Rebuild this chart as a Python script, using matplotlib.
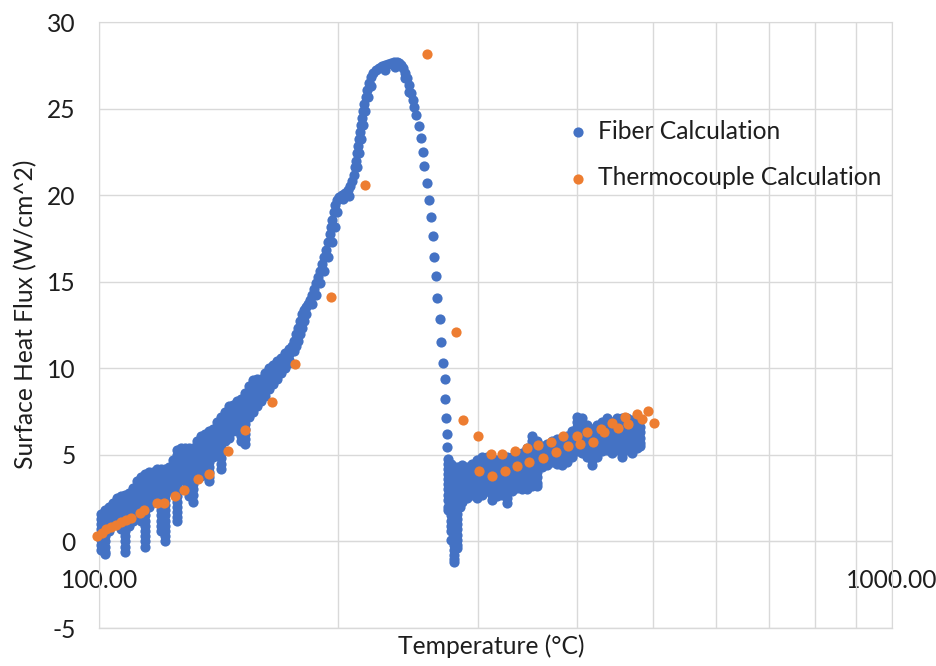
import matplotlib
matplotlib.use("Agg")
import matplotlib.pyplot as plt
from matplotlib.ticker import FixedLocator, NullFormatter, FormatStrFormatter

# fiber calculation, early rise: each column is (temperature, flux values read top to bottom)
fiber_rise = [
    (100.5, [1.6, 1.3, 1.0, 0.7, 0.4, 0.1, -0.2, -0.5]),
    (101.7, [1.8, 1.5, 1.2, 0.9, 0.6, 0.3, 0.0, -0.3, -0.6, -0.7]),
    (102.9, [2.0, 1.7, 1.4, 1.1, 0.8, 0.6]),
    (104.0, [2.2, 1.9, 1.6, 1.3, 1.0]),
    (105.3, [2.5, 2.2, 1.9, 1.6, 1.2]),
    (106.5, [2.6, 2.3, 2.0, 1.7, 1.4, 1.1, 0.7]),
    (107.7, [2.7, 2.4, 2.1, 1.8, 1.5, 1.2, 0.9, 0.6, 0.3, 0.0, -0.3, -0.6]),
    (109.0, [2.8, 2.5, 2.2, 1.9, 1.6, 1.3, 0.9]),
    (110.3, [3.1, 2.8, 2.5, 2.2, 1.9, 1.5, 1.2]),
    (111.6, [3.5, 3.2, 2.9, 2.6, 2.3, 1.9, 1.6]),
    (112.9, [3.7, 3.4, 3.1, 2.8, 2.5, 2.2, 1.9, 1.5, 1.2]),
    (114.2, [3.9, 3.6, 3.3, 3.0, 2.7, 2.4, 2.1, 1.8, 1.5, 1.2, 0.9, 0.6, 0.3, 0.0, -0.3]),
    (115.5, [4.0, 3.7, 3.4, 3.1, 2.8, 2.5, 2.2, 2.0]),
    (116.9, [4.0, 3.7, 3.4, 3.1, 2.8, 2.5, 2.3]),
    (118.3, [4.2, 3.9, 3.6, 3.3, 3.0, 2.7, 2.3]),
    (119.7, [4.2, 3.9, 3.6, 3.3, 3.0, 2.7, 2.4, 2.1, 1.8, 1.5, 1.2, 0.9, 0.6]),
    (121.1, [4.2, 3.9, 3.6, 3.3, 3.0, 2.7, 2.4, 2.1, 1.8, 1.5, 1.2, 0.9, 0.6, 0.3, 0.0]),
    (122.5, [4.3, 4.0, 3.7, 3.4, 3.1, 2.9]),
    (123.9, [4.7, 4.4, 4.1, 3.8, 3.5]),
    (125.4, [5.3, 5.0, 4.7, 4.4, 4.1, 3.8, 3.5, 3.2, 2.9, 2.6, 2.3, 2.0, 1.7, 1.4, 1.2]),
    (126.8, [5.4, 5.1, 4.8, 4.5, 4.2, 4.0]),
    (128.3, [5.4, 5.1, 4.8, 4.5, 4.2, 3.9, 3.5]),
    (129.8, [5.4, 5.1, 4.8, 4.5, 4.2, 3.9, 3.6, 3.3, 3.0, 2.6]),
    (131.3, [5.4, 5.1, 4.8, 4.5, 4.2, 3.9, 3.6, 3.3, 3.0, 2.7, 2.3]),
    (132.9, [5.8, 5.5, 5.2, 4.9, 4.5]),
    (134.4, [6.1, 5.8, 5.5, 5.2, 4.9, 4.6, 4.3, 4.0, 3.8]),
    (136.0, [6.2, 5.9, 5.6, 5.3, 5.0, 4.7, 4.3]),
    (137.6, [6.4, 6.1, 5.8, 5.5, 5.2, 4.9, 4.6, 4.3, 4.0, 3.7, 3.5]),
    (139.2, [6.5, 6.2, 5.9, 5.6, 5.2, 4.9]),
    (140.8, [6.9, 6.6, 6.3, 6.0, 5.7, 5.4, 5.2]),
    (142.4, [7.2, 6.9, 6.6, 6.3, 6.0, 5.7, 5.4, 5.1, 4.8, 4.5, 4.2]),
    (144.1, [7.5, 7.2, 6.9, 6.6, 6.3, 6.0, 5.8]),
    (145.8, [7.8, 7.5, 7.2, 6.9, 6.6, 6.3, 6.0]),
    (147.5, [7.9, 7.6, 7.3, 7.0, 6.7, 6.4]),
    (149.2, [8.1, 7.8, 7.5, 7.2, 6.9, 6.6, 6.4]),
    (151.0, [8.2, 7.9, 7.6, 7.3, 7.0, 6.7, 6.4, 6.1, 5.8]),
    (152.7, [8.6, 8.3, 8.0, 7.7, 7.4, 7.1, 6.8, 6.5, 6.2, 5.9, 5.6]),
    (154.5, [9.0, 8.7, 8.4, 8.1, 7.8, 7.5, 7.2]),
    (156.4, [9.3, 9.0, 8.7, 8.4, 8.1, 7.8, 7.5]),
    (158.2, [9.4, 9.1, 8.8, 8.5, 8.2, 7.8]),
    (160.0, [9.4, 9.1, 8.8, 8.5, 8.1]),
    (161.9, [9.7, 9.4, 9.1, 8.8, 8.4]),
    (163.8, [10.0, 9.7, 9.4, 9.1, 8.8]),
    (165.7, [10.2, 9.9, 9.6, 9.3, 9.1]),
    (167.6, [10.4, 10.1, 9.8, 9.4]),
    (169.6, [10.6, 10.3, 10.0, 9.7]),
    (171.6, [10.9, 10.6, 10.3, 10.0]),
    (173.6, [11.1, 10.8, 10.5, 10.3]),
]

# fiber calculation, smooth climb to the peak and the fall after it
fiber_peak_temp = [
    174.1, 175.1, 176.1, 177.2, 178.2, 179.2, 180.2, 181.3, 182.4, 183.4,
    184.5, 185.6, 186.6, 187.7, 188.8, 189.9, 191.0, 192.1, 193.3, 194.4,
    195.5, 196.1, 196.7, 197.8, 198.4, 199.5, 200.7, 202.5, 204.2, 206.0,
    207.2, 208.4, 209.6, 210.2, 210.8, 211.5, 212.1, 212.7, 213.3, 213.9,
    214.6, 215.2, 215.8, 217.1, 217.7, 219.0, 220.2, 221.5, 223.5, 225.4,
    227.4, 229.4, 231.4, 233.4, 235.5, 237.5, 238.9, 240.2, 241.6, 243.0,
    244.4, 245.8, 247.3, 248.7, 249.8, 250.9, 253.1, 254.3, 255.8, 256.8,
    259.3, 260.6, 261.8, 263.4, 264.6, 265.9, 266.9, 269.0, 270.0, 271.6,
    272.7, 273.3, 273.7, 274.8, 274.8, 275.6,
]
fiber_peak_flux = [
    11.00, 11.29, 11.58, 11.99, 12.33, 12.74, 13.14, 13.37, 13.55, 13.72,
    13.95, 14.24, 14.59, 14.94, 15.29, 15.63, 16.04, 16.44, 16.85, 17.31,
    17.78, 18.18, 18.59, 19.05, 19.45, 19.74, 19.92, 20.03, 20.15, 20.27,
    20.50, 20.79, 21.19, 21.60, 22.00, 22.41, 22.81, 23.22, 23.62, 24.03,
    24.43, 24.84, 25.24, 25.65, 26.06, 26.46, 26.81, 27.04, 27.21, 27.33,
    27.44, 27.50, 27.56, 27.62, 27.68, 27.68, 27.62, 27.50, 27.33, 27.04,
    26.75, 26.34, 25.88, 25.48, 25.07, 24.61, 23.97, 23.28, 22.47, 21.66,
    20.73, 19.74, 18.76, 17.66, 16.44, 15.34, 14.07, 12.85, 11.52, 10.31,
    9.38, 8.22, 7.12, 6.20, 5.44, 4.75,
]
# second row of points that gives the climb its thickness
fiber_edge_temp = [
    176.1, 177.2, 178.2, 179.2, 180.2, 181.3, 182.4, 185.6, 187.7, 189.9,
    192.1, 194.4, 196.7, 198.4, 199.5, 203.0, 206.6, 211.5, 212.7, 213.9,
    215.2, 216.4, 218.4, 220.2, 229.4, 236.1, 243.0, 245.8,
]
fiber_edge_flux = [
    11.00, 11.29, 11.58, 11.99, 12.33, 12.74, 13.14, 13.72, 14.24, 14.94,
    15.63, 16.44, 17.31, 18.18, 19.05, 19.80, 19.97, 21.60, 22.41, 23.22,
    24.03, 24.84, 25.65, 26.29, 27.21, 27.39, 26.75, 25.94,
]

# fiber calculation, dip below zero
fiber_dip = [
    (275.4, [4.5, 4.2, 3.9, 3.6, 3.3, 3.0, 2.7, 2.4, 2.0, 1.8]),
    (277.8, [4.5, 4.2, 3.9, 3.6, 3.3, 3.0, 2.7, 2.4, 2.1, 1.8, 1.5, 1.2, 0.9, 0.6, 0.1]),
    (280.2, [4.3, 4.0, 3.7, 3.4, 3.1, 2.8, 2.5, 2.2, 1.9, 1.6, 1.3, 1.0, 0.7, 0.4, 0.1,
             -0.2, -0.5, -0.8, -1.0, -1.2]),
    (282.7, [4.3, 4.0, 3.7, 3.4, 3.1, 2.8, 2.5, 2.2, 1.9, 1.6, 1.3, 1.0, 0.7, 0.4, 0.1,
             -0.2, -0.4]),
    (285.2, [4.3, 4.0, 3.7, 3.4, 3.1, 2.8, 2.5, 2.2, 2.0]),
]

# fiber calculation, slow recovery band
fiber_tail = [
    (286.8, [4.4, 4.1, 3.8, 3.5, 3.2, 2.9, 2.6, 2.3]),
    (291.0, [4.3, 4.0, 3.7, 3.4, 3.1, 2.8, 2.5]),
    (295.2, [4.5, 4.2, 3.9, 3.6, 3.3, 3.0, 2.7]),
    (299.5, [4.7, 4.4, 4.1, 3.8, 3.5, 3.2, 2.9, 2.5]),
    (303.9, [4.9, 4.6, 4.3, 4.0, 3.7, 3.4, 3.0, 2.7]),
    (308.3, [4.9, 4.6, 4.3, 4.0, 3.7, 3.4, 3.1, 2.9]),
    (312.8, [4.8, 4.5, 4.2, 3.9, 3.6, 3.3, 3.0, 2.7, 2.4]),
    (317.3, [4.7, 4.4, 4.1, 3.8, 3.5, 3.2, 2.9, 2.6]),
    (322.1, [4.9, 4.6, 4.3, 4.0, 3.7, 3.4, 3.0, 2.7]),
    (326.8, [4.9, 4.6, 4.3, 4.0, 3.7, 3.4, 3.1, 2.8, 2.5, 2.2]),
    (331.6, [4.9, 4.6, 4.3, 4.0, 3.7, 3.4, 3.1, 2.9]),
    (336.3, [4.9, 4.6, 4.3, 4.0, 3.7, 3.4, 3.1]),
    (341.2, [5.1, 4.8, 4.5, 4.2, 3.9, 3.6, 3.3, 3.0]),
    (346.2, [5.4, 5.1, 4.8, 4.5, 4.2, 3.9, 3.6, 3.3, 3.0]),
    (351.3, [6.1, 5.8, 5.5, 5.2, 4.9, 4.6, 4.3, 4.0, 3.7, 3.4, 3.2]),
    (356.4, [5.8, 5.5, 5.2, 4.9, 4.6, 4.3, 4.0, 3.7, 3.4, 3.2]),
    (361.6, [5.5, 5.2, 4.9, 4.6, 4.3]),
    (366.8, [5.6, 5.3, 5.0, 4.7, 4.4]),
    (372.5, [5.8, 5.5, 5.2, 4.9, 4.6]),
    (377.9, [5.9, 5.6, 5.3, 5.0, 4.7, 4.5]),
    (383.4, [6.0, 5.7, 5.4, 5.1, 4.8, 4.4]),
    (389.0, [6.1, 5.8, 5.5, 5.2, 4.9, 4.6]),
    (394.6, [6.4, 6.1, 5.8, 5.5, 5.2, 4.9]),
    (400.4, [7.2, 6.9, 6.6, 6.3, 6.0, 5.7, 5.4, 5.2]),
    (406.2, [7.1, 6.8, 6.5, 6.2, 5.9, 5.6, 5.3, 5.1]),
    (412.1, [6.7, 6.4, 6.1, 5.8, 5.5, 5.2, 4.9]),
    (418.1, [6.5, 6.2, 5.9, 5.6, 5.3, 5.0, 4.7, 4.4]),
    (424.2, [6.7, 6.4, 6.1, 5.8, 5.5, 5.2, 4.9]),
    (430.6, [6.9, 6.6, 6.3, 6.0, 5.7, 5.4, 5.2]),
    (436.9, [7.1, 6.8, 6.5, 6.2, 5.9, 5.6, 5.3]),
    (443.3, [6.9, 6.6, 6.3, 6.0, 5.7, 5.4, 5.1]),
    (449.7, [7.1, 6.8, 6.5, 6.2, 5.9, 5.6, 5.3]),
    (456.2, [7.1, 6.8, 6.5, 6.2, 5.9, 5.6, 5.3, 4.9]),
    (462.9, [7.1, 6.8, 6.5, 6.2, 5.9, 5.6, 5.3]),
    (469.6, [7.0, 6.7, 6.4, 6.1, 5.8, 5.5, 5.1]),
    (476.5, [6.9, 6.6, 6.3, 6.0, 5.7, 5.4]),
    (480.6, [6.6, 6.3, 6.0, 5.7, 5.5]),
]

# thermocouple calculation
thermo_temp = [
    99.4, 100.7, 102.0, 103.4, 105.0, 106.4, 108.1, 109.5, 112.5, 113.9,
    118.1, 120.7, 124.6, 127.9, 133.1, 137.6, 145.5, 152.7, 165.0, 176.6,
    196.1, 216.4, 259.1, 281.8, 287.3, 300.2, 301.5, 311.8, 312.6, 322.1,
    325.0, 334.8, 336.1, 346.7, 348.7, 357.6, 362.5, 371.7, 376.5, 384.8,
    390.5, 400.1, 404.0, 411.9, 420.0, 429.0, 433.4, 443.4, 450.8, 460.4,
    464.8, 476.3, 483.3, 492.6, 500.8,
]
thermo_flux = [
    0.29, 0.48, 0.69, 0.83, 0.97, 1.10, 1.26, 1.35, 1.64, 1.84,
    2.22, 2.22, 2.61, 2.99, 3.63, 3.90, 5.21, 6.41, 8.07, 10.25,
    14.13, 20.61, 28.14, 12.10, 6.99, 6.08, 4.09, 5.05, 3.80, 5.05,
    4.09, 5.25, 4.38, 5.40, 4.59, 5.56, 4.82, 5.75, 5.17, 6.08,
    5.50, 6.08, 5.63, 6.33, 5.75, 6.50, 6.33, 6.85, 6.53, 7.18,
    6.79, 7.37, 7.05, 7.53, 6.83,
]


def flatten(columns):
    temps, fluxes = [], []
    for t, vals in columns:
        temps += [t] * len(vals)
        fluxes += vals
    return temps, fluxes


rise_t, rise_q = flatten(fiber_rise)
dip_t, dip_q = flatten(fiber_dip)
tail_t, tail_q = flatten(fiber_tail)
fiber_temp = rise_t + fiber_peak_temp + fiber_edge_temp + dip_t + tail_t
fiber_flux = rise_q + fiber_peak_flux + fiber_edge_flux + dip_q + tail_q

plt.rcParams['font.family'] = ['Lato', 'DejaVu Sans']
plt.rcParams['axes.unicode_minus'] = False
text_color = '#1e1e1e'
grid_color = '#d9d9d9'
fs = 17.7

fig = plt.figure(figsize=(9.37, 6.66), dpi=100)
ax = fig.add_axes([99.3 / 937, 1 - 628 / 666, 792.7 / 937, 606 / 666])

ax.scatter(fiber_temp, fiber_flux, s=54, color='#4472C4', linewidths=0,
           label='Fiber Calculation', zorder=3, clip_on=False)
ax.scatter(thermo_temp, thermo_flux, s=54, color='#ED7D31', linewidths=0,
           label='Thermocouple Calculation', zorder=4, clip_on=False)

ax.set_xscale('log')
ax.set_xlim(100, 1000)
ax.set_ylim(-5, 30)
ax.xaxis.set_major_locator(FixedLocator([100, 1000]))
ax.xaxis.set_minor_locator(FixedLocator([200, 300, 400, 500, 600, 700, 800, 900]))
ax.xaxis.set_major_formatter(FormatStrFormatter('%.2f'))
ax.xaxis.set_minor_formatter(NullFormatter())
ax.set_yticks(range(-5, 31, 5))

ax.grid(True, which='both', color=grid_color, lw=1.0, zorder=0)
ax.set_axisbelow(True)
for side in ['top', 'right', 'left']:
    ax.spines[side].set_color(grid_color)
ax.spines['bottom'].set_position(('data', 0))
ax.spines['bottom'].set_color(grid_color)
ax.axhline(-5, color=grid_color, lw=1.0, clip_on=False, zorder=0)

ax.tick_params(which='both', length=0, labelsize=fs, labelcolor=text_color)
ax.tick_params(axis='y', pad=17)
ax.tick_params(axis='x', pad=20)

ax.set_xlabel('Temperature (°C)', fontsize=fs, color=text_color)
ax.xaxis.set_label_coords(0.495, -0.01)
ax.set_ylabel('Surface Heat Flux (W/cm^2)', fontsize=fs, color=text_color)
ax.yaxis.set_label_coords(-0.078, 0.518)

ax.legend(loc='upper left', bbox_to_anchor=(0.579, 0.855), frameon=False,
          fontsize=fs, handlelength=0.8, handletextpad=0.4, labelspacing=0.95,
          borderaxespad=0, scatterpoints=1, labelcolor=text_color)

fig.savefig('out.png', dpi=100)
